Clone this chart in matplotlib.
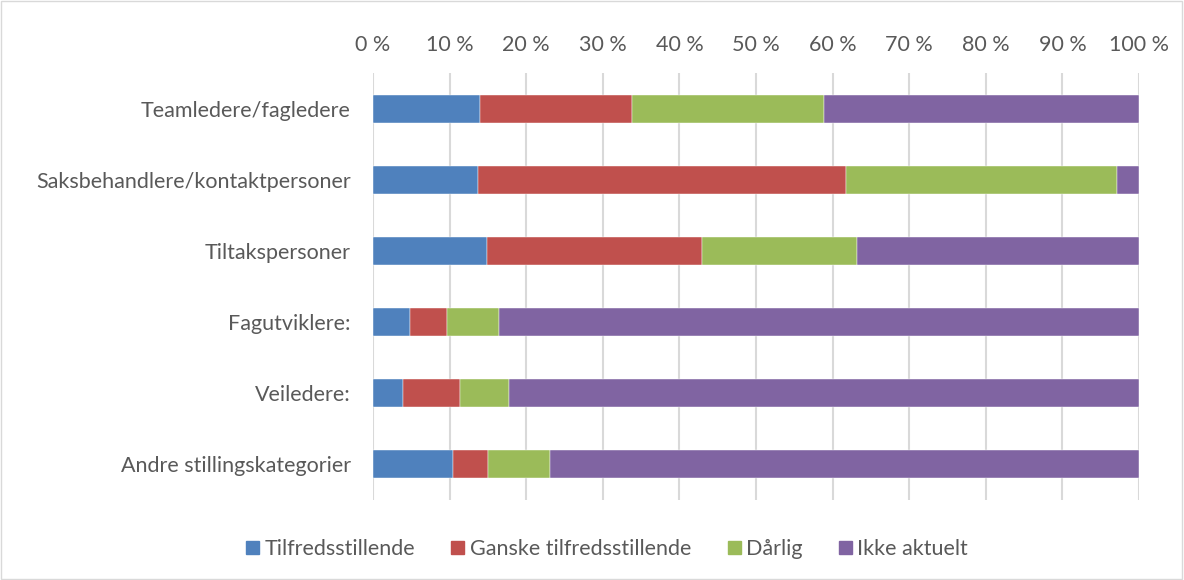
import matplotlib.pyplot as plt
import matplotlib.patches as mpatches
import numpy as np

plt.rcParams['font.family'] = ['Lato', 'DejaVu Sans']

categories = ["Teamledere/fagledere", "Saksbehandlere/kontaktpersoner",
              "Tiltakspersoner", "Fagutviklere:", "Veiledere:",
              "Andre stillingskategorier"]
series_names = ["Tilfredsstillende", "Ganske tilfredsstillende", "Dårlig", "Ikke aktuelt"]
tilfreds = [14.0, 13.7, 14.9, 4.8, 3.9, 10.5]
ganske = [19.8, 48.1, 28.0, 4.8, 7.5, 4.5]
darlig = [25.1, 35.3, 20.3, 6.9, 6.4, 8.1]
ikke = [41.1, 2.9, 36.8, 83.5, 82.2, 76.9]
colors = ["#4f81bd", "#c0504d", "#9bbb59", "#8064a2"]
ticks = np.arange(0, 101, 10)

fig = plt.figure(figsize=(11.84, 5.8), dpi=100)
ax = fig.add_axes([373 / 1184, 1 - 499.5 / 580, (1139 - 373) / 1184, 426 / 580])

y = np.arange(len(categories))
left = np.zeros(len(categories))
for name, vals, c in zip(series_names, [tilfreds, ganske, darlig, ikke], colors):
    ax.barh(y, vals, left=left, height=0.4, color=c, label=name, zorder=3,
            edgecolor='white', linewidth=0.3)
    left += np.array(vals)

ax.set_xlim(0, 100)
ax.set_ylim(len(categories) - 0.5, -0.5)
ax.set_yticks(y)
ax.set_yticklabels(categories)
ax.set_xticks(ticks)
ax.set_xticklabels([f"{t} %" for t in ticks])
ax.xaxis.tick_top()
ax.tick_params(axis='both', length=0, labelsize=15.5, colors='#595959')
ax.tick_params(axis='x', pad=13)
ax.tick_params(axis='y', pad=16)
ax.grid(axis='x', color='#d9d9d9', linewidth=1.5, zorder=0)
for s in ax.spines.values():
    s.set_visible(False)

handles = [mpatches.Patch(color=c, label=n) for n, c in zip(series_names, colors)]
fig.legend(handles=handles, loc='center', bbox_to_anchor=(607 / 1184, 1 - 549 / 580),
           ncol=4, frameon=False, fontsize=15.5, handlelength=0.6, handleheight=0.6,
           handletextpad=0.25, columnspacing=1.7, labelcolor='#595959')

fig.patches.append(mpatches.Rectangle((0.001, 0.002), 0.997, 0.996, transform=fig.transFigure,
                                      fill=False, edgecolor='#d9d9d9', linewidth=1))

fig.savefig("out.png", dpi=100)
